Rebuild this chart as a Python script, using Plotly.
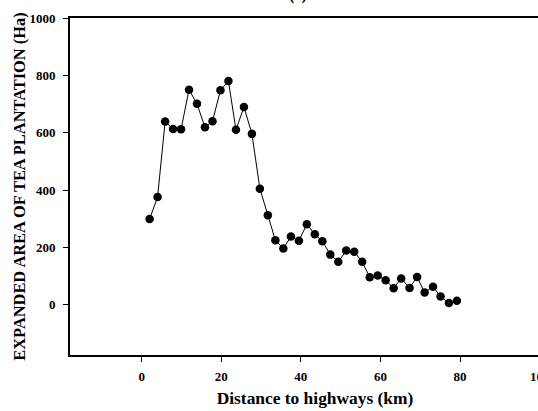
import plotly.graph_objects as go

distance_km = [2.0, 4.0, 5.9, 7.9, 9.9, 11.9, 13.9, 15.9, 17.8, 19.8,
               21.8, 23.7, 25.7, 27.7, 29.7, 31.7, 33.6, 35.6, 37.5, 39.5,
               41.5, 43.5, 45.4, 47.4, 49.4, 51.4, 53.4, 55.4, 57.3, 59.3,
               61.3, 63.3, 65.2, 67.3, 69.2, 71.1, 73.2, 75.1, 77.2, 79.2]
expanded_area_ha = [299, 376, 639, 613, 612, 750, 701, 619, 640, 748,
                    780, 610, 690, 596, 405, 312, 225, 196, 238, 223,
                    281, 246, 222, 175, 150, 189, 185, 150, 96, 102,
                    86, 58, 92, 59, 97, 43, 63, 29, 6, 14]
x_ticks = [0, 20, 40, 60, 80, 100]
y_ticks = [0, 200, 400, 600, 800, 1000]

serif = "Liberation Serif"

fig = go.Figure()
fig.add_trace(go.Scatter(
    x=distance_km, y=expanded_area_ha, mode="lines+markers",
    line=dict(color="black", width=1),
    marker=dict(color="black", size=8.5),
    cliponaxis=False,
))

# The original panel is cropped on the right: the plot area runs past the
# visible 538 px window, so the figure is drawn slightly wider than the page.
fig.update_layout(
    width=560, height=411,
    margin=dict(l=70, r=0, t=17.5, b=55.5, autoexpand=False),
    paper_bgcolor="white", plot_bgcolor="white",
    showlegend=False,
    font=dict(family=serif, color="black"),
    xaxis=dict(
        range=[-18.0, 105.1], tickvals=x_ticks, ticktext=[str(v) for v in x_ticks],
        showgrid=False, zeroline=False, showline=True, linecolor="black",
        linewidth=2, mirror=True, ticks="outside", ticklen=5, tickwidth=1,
        tickcolor="black", ticklabelstandoff=3,
        tickfont=dict(family=serif, size=13, color="black", weight="bold"),
        title=dict(text="<b>Distance to highways (km)</b>",
                   font=dict(family=serif, size=17.4, color="black"), standoff=9),
    ),
    yaxis=dict(
        range=[-175, 1000], tickvals=y_ticks, ticktext=[str(v) for v in y_ticks],
        showgrid=False, zeroline=False, showline=True, linecolor="black",
        linewidth=2, ticks="outside", ticklen=5, tickwidth=1, tickcolor="black",
        ticklabelstandoff=5,
        tickfont=dict(family=serif, size=13, color="black", weight="bold"),
        title=dict(text="<b>EXPANDED AREA OF TEA PLANTATION (Ha)</b>",
                   font=dict(family=serif, size=16.4, color="black"), standoff=0),
    ),
    annotations=[
        dict(text="<b>(c)</b>", x=(298 - 70) / 490, xref="paper", y=1.0, yref="paper",
             yshift=12, xanchor="center", yanchor="bottom", showarrow=False,
             font=dict(family=serif, size=16, color="black")),
    ],
)

fig.write_html(
    "out.html",
    config={"displayModeBar": False},
    post_script=(
        "document.body.style.margin='0';"
        "document.documentElement.style.overflow='hidden';"
        "document.body.style.overflow='hidden';"
    ),
)
